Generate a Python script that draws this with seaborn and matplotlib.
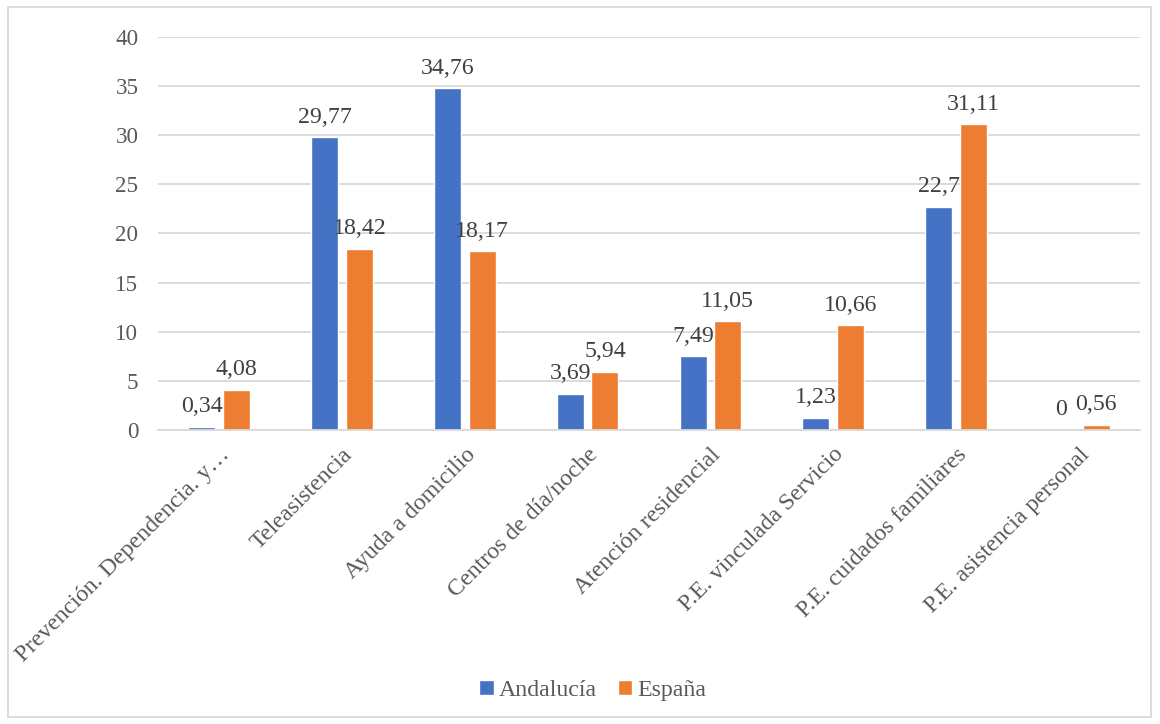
import matplotlib
matplotlib.use("Agg")
import matplotlib.pyplot as plt
from matplotlib.patches import Rectangle
import seaborn as sns
import pandas as pd

categorias = [
    "Prevención. Dependencia. y…",
    "Teleasistencia",
    "Ayuda a domicilio",
    "Centros de día/noche",
    "Atención residencial",
    "P.E. vinculada Servicio",
    "P.E. cuidados familiares",
    "P.E. asistencia personal",
]
andalucia = [0.34, 29.77, 34.76, 3.69, 7.49, 1.23, 22.7, 0.0]
espana = [4.08, 18.42, 18.17, 5.94, 11.05, 10.66, 31.11, 0.56]
series = ["Andalucía", "España"]
colores = ["#4472C4", "#ED7D31"]

df = pd.DataFrame({
    "categoria": categorias * 2,
    "valor": andalucia + espana,
    "serie": [series[0]] * len(categorias) + [series[1]] * len(categorias),
})

sns.set_theme(style="white")
plt.rcParams["font.family"] = ["Liberation Serif", "DejaVu Serif"]

FS = 17.2
FS_TICK = 16.6
fig = plt.figure(figsize=(11.6, 7.24), dpi=100)
ax = fig.add_axes([0.136, 0.406, 0.847, 0.543])

sns.barplot(data=df, x="categoria", y="valor", hue="serie", palette=colores,
            width=0.565, gap=0.22, ax=ax, legend=True, saturation=1)

def fmt(v):
    s = f"{v:.2f}".rstrip("0").rstrip(".")
    return s.replace(".", ",")

for cont in ax.containers:
    labels = [fmt(b.get_height()) for b in cont]
    ax.bar_label(cont, labels=labels, padding=7, fontsize=FS, color="#404040")

ax.set_ylim(0, 40)
ax.set_yticks(range(0, 41, 5))
ax.yaxis.grid(True, color="#D9D9D9", linewidth=1.3)
ax.set_axisbelow(True)
for s in ["top", "right", "left"]:
    ax.spines[s].set_visible(False)
ax.spines["bottom"].set_color("#D9D9D9")
ax.spines["bottom"].set_linewidth(1.3)
ax.tick_params(axis="y", length=0, pad=14, labelsize=FS_TICK, labelcolor="#595959")
ax.tick_params(axis="x", length=0, pad=10, labelsize=FS, labelcolor="#595959")
ax.set_xlabel("")
ax.set_ylabel("")
plt.setp(ax.get_xticklabels(), rotation=45, ha="right", va="top", rotation_mode="anchor")

leg = ax.legend(loc="center", bbox_to_anchor=(0.511, 0.046), bbox_transform=fig.transFigure,
                ncol=2, frameon=False, fontsize=FS, handlelength=0.6, handleheight=0.6,
                handletextpad=0.2, columnspacing=0.9)
for t in leg.get_texts():
    t.set_color("#595959")

fig.patches.append(Rectangle((0.007, 0.01), 0.985, 0.98, transform=fig.transFigure,
                             fill=False, edgecolor="#D9D9D9", linewidth=1.3))

fig.savefig("out.png", dpi=100)
